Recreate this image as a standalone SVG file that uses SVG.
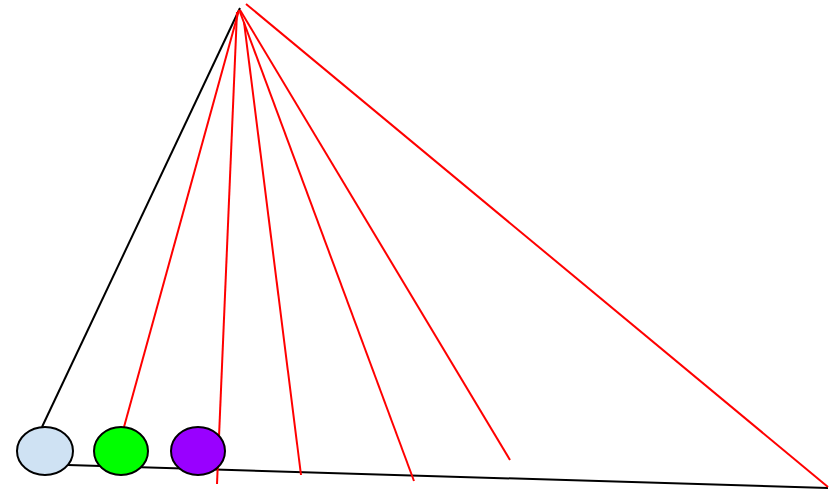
<svg xmlns="http://www.w3.org/2000/svg" width="836" height="491" viewBox="0 0 836 491">
<style>
.k{stroke:#000;stroke-width:2;fill:none}
.r{stroke:#ff0000;stroke-width:2;fill:none}
.n{stroke:#000;stroke-width:2}
</style>
<rect width="836" height="491" fill="#fff"/>
<g id="connectors">
<line class="k" x1="240" y1="8" x2="42" y2="427"/>
<line class="k" x1="68" y1="465" x2="828" y2="488"/>
<line class="r" x1="239" y1="10" x2="124" y2="427"/>
<line class="r" x1="237" y1="12" x2="217" y2="484"/>
<line class="r" x1="244" y1="22" x2="301" y2="475"/>
<line class="r" x1="240" y1="12" x2="414" y2="481"/>
<line class="r" x1="240" y1="10" x2="510" y2="460"/>
<line class="r" x1="246" y1="4" x2="828" y2="487"/>
</g>
<g id="node1"><ellipse class="n" cx="45" cy="451" rx="28" ry="24" fill="#cfe2f3"/></g>
<g id="node2"><ellipse class="n" cx="121" cy="451" rx="27" ry="24" fill="#00ff00"/></g>
<g id="node3"><ellipse class="n" cx="198" cy="451" rx="27" ry="24" fill="#9900ff"/></g>
</svg>
